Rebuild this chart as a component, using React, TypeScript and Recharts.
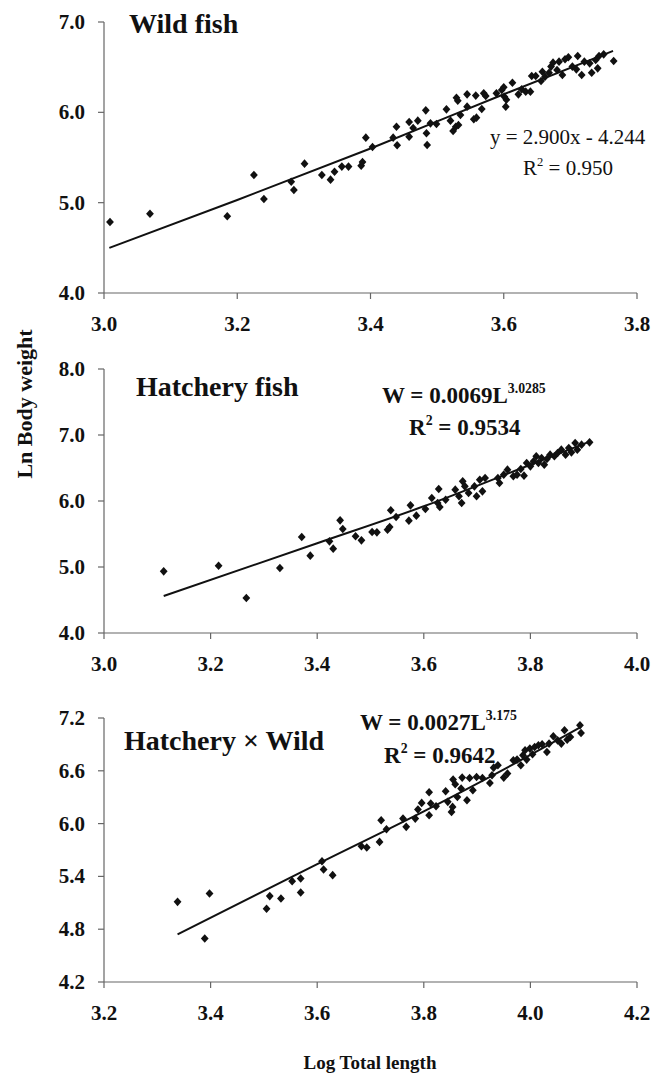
import { ScatterChart, Scatter, XAxis, YAxis } from 'recharts';

const FONT = '"Liberation Serif", "Times New Roman", serif';
const INK = '#111';
const AXIS = '#666';

// Wild fish (log total length, ln body weight)
const wildLen = [
  3.009, 3.069, 3.185, 3.225, 3.24, 3.281, 3.285, 3.301, 3.327, 3.34, 3.346, 3.357, 3.367, 3.386, 3.388,
  3.393, 3.403, 3.434, 3.439, 3.44, 3.458, 3.458, 3.464, 3.471, 3.483, 3.484, 3.485, 3.49, 3.499, 3.514,
  3.52, 3.524, 3.528, 3.529, 3.531, 3.532, 3.535, 3.545, 3.545, 3.555, 3.559, 3.558, 3.567, 3.57, 3.573,
  3.589, 3.597, 3.6, 3.601, 3.603, 3.604, 3.613, 3.622, 3.627, 3.633, 3.64, 3.642, 3.648, 3.656, 3.658,
  3.662, 3.668, 3.671, 3.674, 3.68, 3.683, 3.688, 3.692, 3.697, 3.703, 3.709, 3.711, 3.717, 3.721, 3.729,
  3.732, 3.738, 3.741, 3.743, 3.75, 3.765,
];
const wildWt = [
  4.786, 4.878, 4.849, 5.306, 5.041, 5.232, 5.14, 5.432, 5.306, 5.255, 5.343, 5.399, 5.399, 5.41, 5.45,
  5.72, 5.616, 5.72, 5.841, 5.635, 5.893, 5.731, 5.827, 5.908, 6.022, 5.768, 5.638, 5.878, 5.871, 6.033,
  5.908, 5.793, 5.841, 6.162, 6.129, 5.86, 5.97, 6.199, 6.063, 5.923, 5.941, 6.185, 6.037, 6.21, 6.181,
  6.21, 6.247, 6.277, 6.173, 6.063, 6.14, 6.328, 6.199, 6.255, 6.229, 6.229, 6.402, 6.402, 6.347, 6.45,
  6.395, 6.439, 6.506, 6.55, 6.468, 6.561, 6.413, 6.587, 6.609, 6.506, 6.476, 6.624, 6.413, 6.561, 6.542,
  6.439, 6.579, 6.487, 6.624, 6.642, 6.568,
];
const wildFitLen = [3.008, 3.2, 3.4, 3.6, 3.764];
const wildFitWt = [4.5, 5.03, 5.6, 6.2, 6.68];

// Hatchery fish
const hatchLen = [
  3.112, 3.215, 3.267, 3.33, 3.371, 3.387, 3.423, 3.43, 3.443, 3.448, 3.472, 3.483, 3.503, 3.512, 3.532,
  3.536, 3.538, 3.548, 3.572, 3.575, 3.586, 3.603, 3.615, 3.626, 3.628, 3.63, 3.641, 3.659, 3.666, 3.671,
  3.673, 3.677, 3.684, 3.695, 3.699, 3.705, 3.71, 3.715, 3.739, 3.742, 3.75, 3.757, 3.768, 3.775, 3.782,
  3.788, 3.793, 3.8, 3.806, 3.811, 3.815, 3.821, 3.826, 3.831, 3.837, 3.845, 3.851, 3.858, 3.866, 3.872,
  3.877, 3.884, 3.888, 3.896, 3.911,
];
const hatchWt = [
  4.934, 5.02, 4.53, 4.985, 5.455, 5.172, 5.389, 5.278, 5.707, 5.576, 5.465, 5.404, 5.53, 5.525, 5.566,
  5.606, 5.859, 5.758, 5.702, 5.934, 5.778, 5.879, 6.045, 5.97, 6.182, 5.909, 6.02, 6.172, 6.071, 5.97,
  6.298, 6.222, 6.121, 6.222, 6.071, 6.323, 6.146, 6.348, 6.348, 6.273, 6.399, 6.475, 6.374, 6.399, 6.485,
  6.384, 6.576, 6.525, 6.601, 6.677, 6.576, 6.652, 6.551, 6.636, 6.702, 6.677, 6.727, 6.778, 6.702, 6.803,
  6.737, 6.879, 6.778, 6.854, 6.889,
];
const hatchFitLen = [3.112, 3.4, 3.6, 3.8, 3.911];
const hatchFitWt = [4.56, 5.36, 5.92, 6.55, 6.9];

// Hatchery x Wild
const crossLen = [
  3.338, 3.389, 3.398, 3.505, 3.511, 3.532, 3.553, 3.569, 3.569, 3.609, 3.612, 3.629, 3.683, 3.693, 3.717,
  3.72, 3.73, 3.761, 3.767, 3.784, 3.789, 3.796, 3.81, 3.81, 3.813, 3.823, 3.841, 3.845, 3.852, 3.854,
  3.855, 3.859, 3.863, 3.87, 3.872, 3.881, 3.886, 3.892, 3.899, 3.91, 3.924, 3.928, 3.931, 3.939, 3.95,
  3.957, 3.968, 3.975, 3.982, 3.986, 3.99, 3.993, 3.999, 4.004, 4.008, 4.015, 4.022, 4.031, 4.035, 4.043,
  4.051, 4.058, 4.064, 4.069, 4.075, 4.093, 4.095,
];
const crossWt = [
  5.111, 4.695, 5.206, 5.032, 5.176, 5.149, 5.346, 5.376, 5.217, 5.573, 5.478, 5.414, 5.743, 5.728, 5.792,
  6.038, 5.936, 6.057, 5.963, 6.057, 6.16, 6.235, 6.095, 6.356, 6.228, 6.197, 6.368, 6.247, 6.133, 6.19,
  6.5, 6.447, 6.303, 6.398, 6.523, 6.265, 6.519, 6.379, 6.53, 6.519, 6.462, 6.549, 6.636, 6.663, 6.523,
  6.568, 6.72, 6.727, 6.663, 6.776, 6.833, 6.727, 6.852, 6.788, 6.871, 6.89, 6.901, 6.814, 6.909, 6.992,
  6.946, 6.909, 7.06, 6.954, 6.984, 7.117, 7.03,
];
const crossFitLen = [3.338, 3.6, 3.8, 4.0, 4.095];
const crossFitWt = [4.74, 5.54, 6.14, 6.78, 7.1];

const wildXTicks = [3.0, 3.2, 3.4, 3.6, 3.8];
const wildYTicks = [4, 5, 6, 7];
const hatchXTicks = [3.0, 3.2, 3.4, 3.6, 3.8, 4.0];
const hatchYTicks = [4, 5, 6, 7, 8];
const crossXTicks = [3.2, 3.4, 3.6, 3.8, 4.0, 4.2];
const crossYTicks = [4.2, 4.8, 5.4, 6.0, 6.6, 7.2];

const pairs = (xs: number[], ys: number[]) => xs.map((x, i) => ({ x, y: ys[i] }));

const Diamond = (props: any) => {
  const { cx, cy } = props;
  if (cx == null || cy == null) return <g />;
  const r = 4.3;
  const w = 3.9;
  return <path d={`M${cx},${cy - r}L${cx + w},${cy}L${cx},${cy + r}L${cx - w},${cy}Z`} fill={INK} />;
};

const XTick = (props: any) => {
  const { x, y, payload } = props;
  return (
    <text x={x} y={y + 14} textAnchor="middle" fontSize={21} fontWeight="bold" fontFamily={FONT} fill={INK}>
      {Number(payload.value).toFixed(1)}
    </text>
  );
};

const YTick = (props: any) => {
  const { x, y, payload } = props;
  return (
    <text x={x} y={y + 7} textAnchor="end" fontSize={21} fontWeight="bold" fontFamily={FONT} fill={INK}>
      {Number(payload.value).toFixed(1)}
    </text>
  );
};

interface PanelProps {
  top: number;
  plotTop: number;
  plotHeight: number;
  points: { x: number; y: number }[];
  fit: { x: number; y: number }[];
  xTicks: number[];
  yTicks: number[];
}

function Panel({ top, plotTop, plotHeight, points, fit, xTicks, yTicks }: PanelProps) {
  const height = plotTop + plotHeight + 50;
  return (
    <div style={{ position: 'absolute', left: 0, top }}>
      <ScatterChart width={664} height={height} margin={{ top: plotTop, right: 27, bottom: 0, left: 44 }}>
        <XAxis
          type="number"
          dataKey="x"
          domain={[xTicks[0], xTicks[xTicks.length - 1]]}
          ticks={xTicks}
          tick={<XTick />}
          tickSize={6}
          tickMargin={18}
          height={50}
          axisLine={{ stroke: AXIS, strokeWidth: 1.2 }}
          tickLine={{ stroke: AXIS, strokeWidth: 1.2 }}
          allowDataOverflow
        />
        <YAxis
          type="number"
          dataKey="y"
          domain={[yTicks[0], yTicks[yTicks.length - 1]]}
          ticks={yTicks}
          tick={<YTick />}
          tickSize={6}
          tickMargin={13}
          width={60}
          axisLine={{ stroke: AXIS, strokeWidth: 1.2 }}
          tickLine={{ stroke: AXIS, strokeWidth: 1.2 }}
          allowDataOverflow
        />
        <Scatter data={points} shape={<Diamond />} isAnimationActive={false} />
        <Scatter
          data={fit}
          line={{ stroke: INK, strokeWidth: 2 }}
          lineJointType="monotoneX"
          shape={() => <g />}
          isAnimationActive={false}
        />
      </ScatterChart>
    </div>
  );
}

const text = (left: number, top: number, size: number, bold: boolean): React.CSSProperties => ({
  position: 'absolute',
  left,
  top,
  fontSize: size,
  lineHeight: 1,
  fontWeight: bold ? 'bold' : 'normal',
  fontFamily: FONT,
  color: INK,
  whiteSpace: 'nowrap',
});

const sup: React.CSSProperties = { fontSize: '0.6em', verticalAlign: 'top', position: 'relative', top: -2 };

export default function App() {
  return (
    <div style={{ position: 'absolute', left: 0, top: 0, width: 664, height: 1073, background: '#fff' }}>
      <Panel
        top={0}
        plotTop={22}
        plotHeight={271}
        points={pairs(wildLen, wildWt)}
        fit={pairs(wildFitLen, wildFitWt)}
        xTicks={wildXTicks}
        yTicks={wildYTicks}
      />
      <Panel
        top={349}
        plotTop={20}
        plotHeight={264}
        points={pairs(hatchLen, hatchWt)}
        fit={pairs(hatchFitLen, hatchFitWt)}
        xTicks={hatchXTicks}
        yTicks={hatchYTicks}
      />
      <Panel
        top={698}
        plotTop={20}
        plotHeight={264}
        points={pairs(crossLen, crossWt)}
        fit={pairs(crossFitLen, crossFitWt)}
        xTicks={crossXTicks}
        yTicks={crossYTicks}
      />

      <div style={text(129, 10, 28, true)}>Wild fish</div>
      <div style={text(490, 127, 21, false)}>y = 2.900x - 4.244</div>
      <div style={text(523, 158, 21, false)}>
        R<span style={sup}>2</span> = 0.950
      </div>

      <div style={text(136, 373, 28, true)}>Hatchery fish</div>
      <div style={text(382, 384, 23, true)}>
        W = 0.0069L<span style={sup}>3.0285</span>
      </div>
      <div style={text(409, 416, 23, true)}>
        R<span style={sup}>2</span> = 0.9534
      </div>

      <div style={text(124, 727, 28, true)}>Hatchery × Wild</div>
      <div style={text(360, 711, 23, true)}>
        W = 0.0027L<span style={sup}>3.175</span>
      </div>
      <div style={text(384, 744, 23, true)}>
        R<span style={sup}>2</span> = 0.9642
      </div>

      <div
        style={{
          ...text(25, 404, 22, true),
          transform: 'translate(-50%, -50%) rotate(-90deg)',
        }}
      >
        Ln Body weight
      </div>
      <div style={{ ...text(370, 1053, 19, true), transform: 'translateX(-50%)' }}>Log Total length</div>
    </div>
  );
}
